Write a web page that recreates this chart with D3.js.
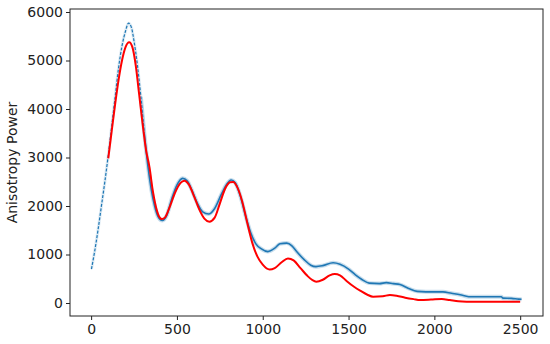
<!DOCTYPE html>
<html>
<head>
<meta charset="utf-8">
<script src="https://cdn.jsdelivr.net/npm/d3@7"></script>
<style>
body { margin: 0; background: #fff; }
text { font-family: "DejaVu Sans", sans-serif; }
</style>
</head>
<body>
<script>
let dataEll = [2,20,40,60,80,100,120,140,160,180,200,218,235,250,270,290,310,330,350,370,390,415,440,470,500,533,560,590,620,650,685,720,760,790,816,840,870,900,930,960,990,1030,1070,1100,1140,1170,1200,1240,1280,1310,1350,1410,1450,1500,1540,1580,1620,1680,1720,1760,1800,1850,1900,1950,2000,2050,2100,2150,2200,2250,2300,2390,2400,2450,2490,2508];
let dataPower = [700,1050,1500,2000,2500,3050,3650,4250,4850,5300,5600,5770,5680,5400,4900,4250,3500,2850,2350,2000,1780,1700,1800,2150,2430,2570,2520,2300,2050,1880,1835,1950,2250,2450,2536,2480,2200,1800,1450,1220,1120,1060,1130,1220,1235,1180,1050,900,780,750,770,830,800,700,580,480,410,400,420,400,380,300,240,230,230,230,200,170,130,130,130,130,100,95,80,76];

let modelEll = [100,120,140,160,180,200,222,240,260,280,300,320,340,360,380,400,413,430,460,490,520,543,570,600,630,660,689,720,750,780,810,829,850,880,910,940,970,1000,1040,1070,1110,1147,1180,1220,1260,1290,1312,1350,1390,1420,1450,1490,1530,1570,1610,1643,1700,1741,1780,1830,1880,1916,1980,2043,2090,2140,2188,2300,2400,2500];
let modelPower = [2980,3550,4100,4600,5000,5270,5375,5280,4900,4300,3700,3155,2800,2300,1950,1760,1730,1760,2000,2280,2470,2522,2440,2200,1930,1740,1677,1760,2050,2350,2490,2495,2400,2100,1650,1230,950,790,690,720,840,920,880,720,560,470,440,480,570,598,570,450,340,250,170,130,140,165,150,110,80,62,70,82,60,35,27,25,25,27];

let xTicks = [0, 500, 1000, 1500, 2000, 2500];
let yTicks = [0, 1000, 2000, 3000, 4000, 5000, 6000];

let width = 550, height = 344;
let margin = { top: 9, left: 70, right: 7, bottom: 28 };

let svg = d3.select("body").append("svg")
  .attr("width", width)
  .attr("height", height);

let x = d3.scaleLinear().domain([-123, 2633]).range([margin.left, width - margin.right]);
let y = d3.scaleLinear().domain([-268, 6062]).range([height - margin.bottom, margin.top]);

let blue = dataEll.map((d, i) => [d, dataPower[i]]);
let red = modelEll.map((d, i) => [d, modelPower[i]]);

let line = d3.line().x(d => x(d[0])).y(d => y(d[1])).curve(d3.curveMonotoneX);

// error-bar halo
svg.append("path")
  .attr("d", line(blue.filter(d => d[0] >= 290)))
  .attr("fill", "none")
  .attr("stroke", "#1f77b4")
  .attr("stroke-opacity", 0.25)
  .attr("stroke-width", 4);

svg.append("path")
  .attr("d", line(blue.filter(d => d[0] <= 310)))
  .attr("fill", "none")
  .attr("stroke", "#1f77b4")
  .attr("stroke-opacity", 0.15)
  .attr("stroke-width", 3);

// low ell: sparse points
svg.append("path")
  .attr("d", line(blue.filter(d => d[0] <= 310)))
  .attr("fill", "none")
  .attr("stroke", "#1f77b4")
  .attr("stroke-width", 1.2)
  .attr("stroke-dasharray", "3,1.5");

svg.append("path")
  .attr("d", line(blue.filter(d => d[0] >= 300)))
  .attr("fill", "none")
  .attr("stroke", "#1f77b4")
  .attr("stroke-width", 1.6);

svg.append("path")
  .attr("d", line(red))
  .attr("fill", "none")
  .attr("stroke", "#ff0000")
  .attr("stroke-width", 2);

// axes
let xAxis = d3.axisBottom(x).tickValues(xTicks).tickFormat(d3.format("d")).tickSize(4).tickPadding(4);
let yAxis = d3.axisLeft(y).tickValues(yTicks).tickFormat(d3.format("d")).tickSize(4).tickPadding(3);

let gx = svg.append("g")
  .attr("transform", `translate(0,${height - margin.bottom})`)
  .call(xAxis);
let gy = svg.append("g")
  .attr("transform", `translate(${margin.left},0)`)
  .call(yAxis);

[gx, gy].forEach(g => {
  g.select(".domain").remove();
  g.selectAll("line").attr("stroke", "#222");
  g.selectAll("text").attr("font-size", "14px").attr("fill", "#222")
    .style("font-family", "DejaVu Sans, sans-serif");
});

// frame
svg.append("rect")
  .attr("x", margin.left)
  .attr("y", margin.top)
  .attr("width", width - margin.left - margin.right)
  .attr("height", height - margin.top - margin.bottom)
  .attr("fill", "none")
  .attr("stroke", "#222")
  .attr("stroke-width", 1);

svg.append("text")
  .attr("transform", `translate(17,${(margin.top + height - margin.bottom) / 2}) rotate(-90)`)
  .attr("text-anchor", "middle")
  .attr("font-size", "14px")
  .attr("fill", "#222")
  .text("Anisotropy Power");
</script>
</body>
</html>
